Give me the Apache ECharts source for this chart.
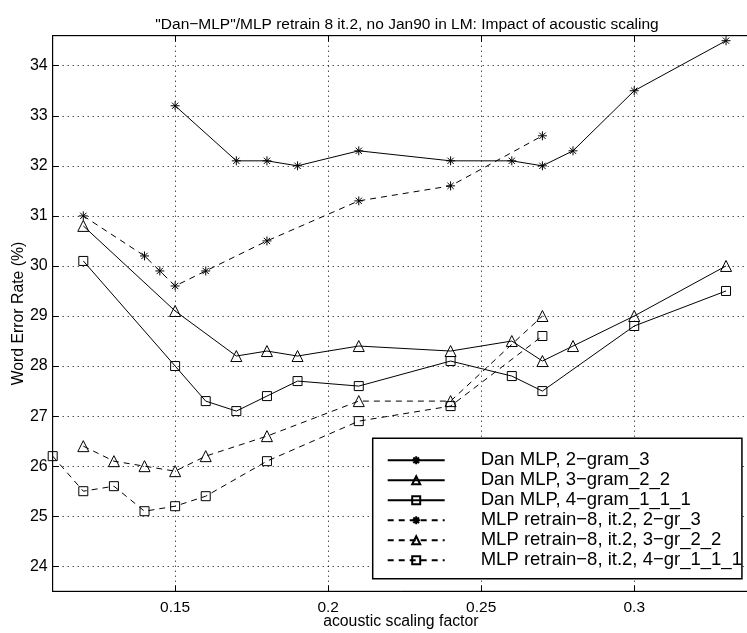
<!DOCTYPE html>
<html>
<head>
<meta charset="utf-8">
<script src="https://cdn.jsdelivr.net/npm/echarts@6/dist/echarts.min.js"></script>
<style>html,body{margin:0;padding:0;background:#fff}#c{width:747px;height:633px}</style>
</head>
<body>
<div id="c"></div>
<script>
// ---- data ----
const seriesNames = [
  'Dan MLP, 2\u2212gram_3',
  'Dan MLP, 3\u2212gram_2_2',
  'Dan MLP, 4\u2212gram_1_1_1',
  'MLP retrain\u22128, it.2, 2\u2212gr_3',
  'MLP retrain\u22128, it.2, 3\u2212gr_2_2',
  'MLP retrain\u22128, it.2, 4\u2212gr_1_1_1'
];
const s1x = [0.15,0.17,0.18,0.19,0.21,0.24,0.26,0.27,0.28,0.30,0.33];
const s1y = [33.2,32.1,32.1,32.0,32.3,32.1,32.1,32.0,32.3,33.5,34.5];
const s2x = [0.12,0.15,0.17,0.18,0.19,0.21,0.24,0.26,0.27,0.28,0.30,0.33];
const s2y = [30.8,29.1,28.2,28.3,28.2,28.4,28.3,28.5,28.1,28.4,29.0,30.0];
const s3x = [0.12,0.15,0.16,0.17,0.18,0.19,0.21,0.24,0.26,0.27,0.30,0.33];
const s3y = [30.1,28.0,27.3,27.1,27.4,27.7,27.6,28.1,27.8,27.5,28.8,29.5];
const s4x = [0.12,0.14,0.145,0.15,0.16,0.18,0.21,0.24,0.27];
const s4y = [31.0,30.2,29.9,29.6,29.9,30.5,31.3,31.6,32.6];
const s5x = [0.12,0.13,0.14,0.15,0.16,0.18,0.21,0.24,0.27];
const s5y = [26.4,26.1,26.0,25.9,26.2,26.6,27.3,27.3,29.0];
const s6x = [0.11,0.12,0.13,0.14,0.15,0.16,0.18,0.21,0.24,0.27];
const s6y = [26.2,25.5,25.6,25.1,25.2,25.4,26.1,26.9,27.2,28.6];
const xTicks = [0.15,0.2,0.25,0.3];
const yTicks = [24,25,26,27,28,29,30,31,32,33,34];
const titleText = '"Dan\u2212MLP"/MLP retrain 8 it.2, no Jan90 in LM: Impact of acoustic scaling';
const xName = 'acoustic scaling factor';
const yName = 'Word Error Rate (%)';

// ---- chart ----
const FONT = '"Liberation Sans", Arial, Helvetica, sans-serif';
const STAR = 'path://M0,-10L0,10M-10,0L10,0M-7,-7L7,7M-7,7L7,-7';
const xs = [s1x,s2x,s3x,s4x,s5x,s6x];
const ys = [s1y,s2y,s3y,s4y,s5y,s6y];
const symbols = [STAR,'triangle','rect',STAR,'triangle','rect'];
const sizes = [9,11,9,9,11,9];
const dashed = [false,false,false,true,true,true];

const series = seriesNames.map((n,i)=>({
  name: n,
  type: 'line',
  data: xs[i].map((x,j)=>[x, ys[i][j]]),
  symbol: symbols[i],
  symbolSize: sizes[i],
  showAllSymbol: true,
  clip: false,
  animation: false,
  lineStyle: {color:'#000', width:1, type: dashed[i] ? [6,5] : 'solid'},
  itemStyle: {color:'rgba(255,255,255,0)', borderColor:'#000', borderWidth:1},
  emphasis: {disabled:true},
  z: 3
}));

const chart = echarts.init(document.getElementById('c'), null, {renderer:'canvas'});
chart.setOption({
  animation: false,
  backgroundColor: '#fff',
  title: {
    text: titleText, left: 402, top: 12, textAlign: 'center',
    textStyle: {fontFamily: FONT, fontSize: 15.5, fontWeight: 'normal', color: '#000'}
  },
  grid: {left: 52.7, top: 35.7, width: 696.3, height: 555.6, outerBoundsMode: 'none', containLabel: false,
         show: true, borderColor: '#000', borderWidth: 1, backgroundColor:'#fff'},
  legend: {
    orient: 'vertical', left: 372.7, top: 438.3,
    data: seriesNames,
    itemWidth: 57, itemHeight: 10, itemGap: 1,
    padding: [12.5, 0, 9, 14],
    borderColor: '#000', borderWidth: 1.5, backgroundColor: '#fff',
    textStyle: {fontFamily: FONT, fontSize: 18.5, color: '#000', padding: [0,0,0,31], lineHeight: 16},
    selectedMode: false, z: 10
  },
  xAxis: [{
    type: 'value', min: 0.11, max: 0.3375, position: 'bottom',
    name: xName, nameLocation: 'middle', nameGap: 22, nameMoveOverlap: false,
    nameTextStyle: {fontFamily: FONT, fontSize: 15.8, color:'#000'},
    axisLine: {show: true, onZero: false, lineStyle: {color:'#000', width: 1}},
    axisTick: {show: true, inside: true, length: 6, customValues: xTicks, lineStyle:{color:'#000'}},
    axisLabel: {customValues: xTicks, fontFamily: FONT, fontSize: 15.5, color:'#000', margin: 8},
    splitLine: {show: true, lineStyle: {color:'#000', type: [1,4], width: 1}}
  },{
    type: 'value', min: 0.11, max: 0.3375, position: 'top',
    axisLine: {show: true, onZero: false, lineStyle: {color:'#000', width: 1}},
    axisTick: {show: true, inside: true, length: 6, customValues: xTicks, lineStyle:{color:'#000'}},
    axisLabel: {show: false},
    splitLine: {show: false}
  }],
  yAxis: [{
    type: 'value', min: 23.5, max: 34.6,
    name: yName, nameLocation: 'middle', nameGap: 26, nameMoveOverlap: false,
    nameTextStyle: {fontFamily: FONT, fontSize: 15.8, color:'#000'},
    axisLine: {show: true, onZero: false, lineStyle: {color:'#000', width: 1}},
    axisTick: {show: true, inside: true, length: 6, customValues: yTicks, lineStyle:{color:'#000'}},
    axisLabel: {customValues: yTicks, fontFamily: FONT, fontSize: 16, color:'#000', margin: 5},
    splitLine: {show: true, lineStyle: {color:'#000', type: [1,4], width: 1}}
  }],
  series: series
});
</script>
</body>
</html>
